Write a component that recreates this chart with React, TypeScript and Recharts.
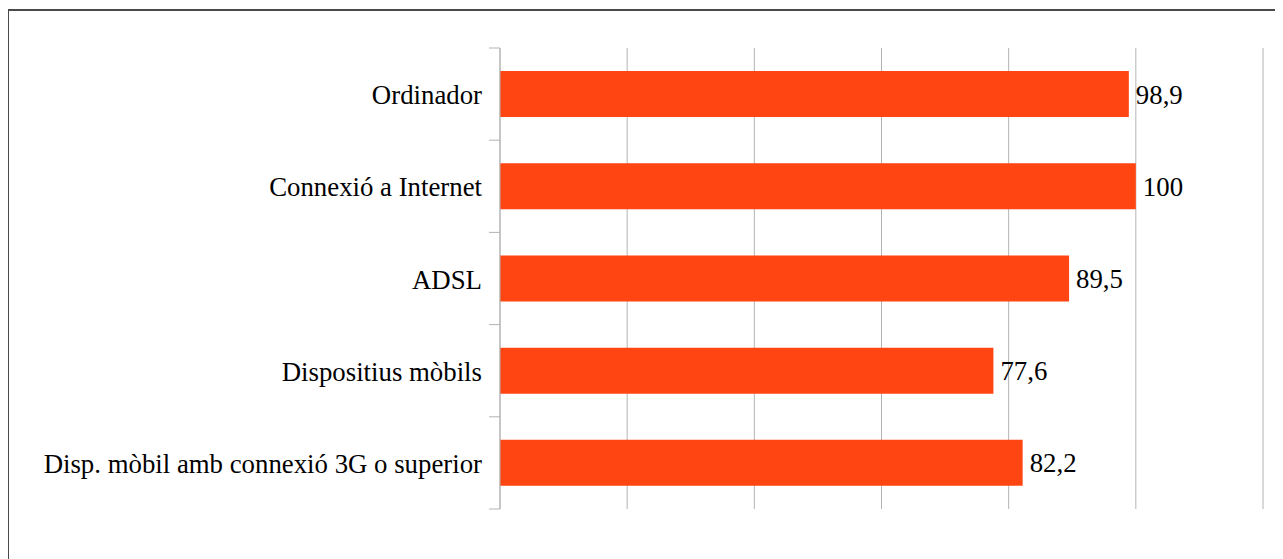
import React from 'react'
import { BarChart, Bar, XAxis, YAxis, CartesianGrid, LabelList } from 'recharts'

const categories = [
  'Ordinador',
  'Connexió a Internet',
  'ADSL',
  'Dispositius mòbils',
  'Disp. mòbil amb connexió 3G o superior',
]
const values = [98.9, 100, 89.5, 77.6, 82.2]
const xTicks = [0, 20, 40, 60, 80, 100, 120]

const data = categories.map((name, i) => ({ name, value: values[i] }))

const W = 1280
const H = 548
const M = { top: 37, right: 26, left: 0, bottom: 50 }
const AXIS_W = 491
const TICK_SIZE = 11
const TICK_MARGIN = 7
const BAND = (H - M.top - M.bottom) / categories.length

const FONT = '"Liberation Serif", "Times New Roman", serif'
const FS = 26.8
const BAR = '#ff4512'
const GRID = '#b3b3b3'

const fmt = (v: any) => String(v).replace('.', ',')

// etiqueta + marca de separació entre categories
function YTick(props: any) {
  const { x, y, payload, index } = props
  const axisX = x + TICK_SIZE + TICK_MARGIN
  const top = y - BAND / 2
  return (
    <g>
      <line x1={axisX - TICK_SIZE} x2={axisX} y1={top} y2={top} stroke={GRID} />
      {index === categories.length - 1 && (
        <line x1={axisX - TICK_SIZE} x2={axisX} y1={y + BAND / 2} y2={y + BAND / 2} stroke={GRID} />
      )}
      <text x={x} y={y} dy="0.38em" textAnchor="end" fontFamily={FONT} fontSize={FS} fill="#000">
        {payload.value}
      </text>
    </g>
  )
}

const NoTick = () => <g />

export default function App() {
  return (
    <div
      style={{
        marginLeft: -1,
        marginTop: 1,
        width: 1300,
        height: 580,
        borderLeft: '2px solid #4a4a4a',
        borderTop: '2px solid #4a4a4a',
        background: '#fff',
      }}
    >
      <BarChart width={W} height={H} data={data} layout="vertical" margin={M} barCategoryGap="25%">
        <CartesianGrid horizontal={false} stroke={GRID} />
        <XAxis
          type="number"
          domain={[0, 120]}
          ticks={xTicks}
          tick={<NoTick />}
          axisLine={false}
          tickLine={false}
          height={0}
        />
        <YAxis
          type="category"
          dataKey="name"
          width={AXIS_W}
          tickSize={TICK_SIZE}
          tickMargin={TICK_MARGIN}
          tickLine={false}
          axisLine={{ stroke: GRID }}
          tick={<YTick />}
          interval={0}
        />
        <Bar dataKey="value" fill={BAR} isAnimationActive={false}>
          <LabelList
            dataKey="value"
            position="right"
            offset={7}
            formatter={fmt}
            style={{ fontFamily: FONT, fontSize: FS, fill: '#000' }}
          />
        </Bar>
      </BarChart>
    </div>
  )
}
